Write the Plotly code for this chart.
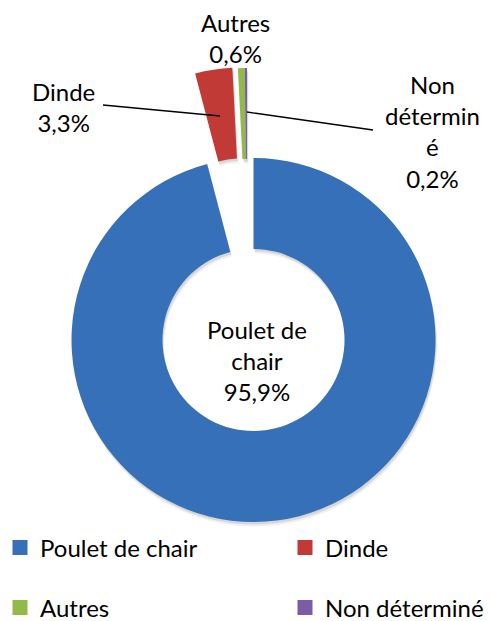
import plotly.graph_objects as go

# ---- data ----
labels = ["Poulet de chair", "Dinde", "Autres", "Non déterminé"]
values = [95.9, 3.3, 0.6, 0.2]
colors = ["#3670B8", "#C23A36", "#92BA4A", "#7D5CA6"]
label_text = ["Poulet de<br>chair", "Dinde", "Autres", "Non<br>détermin<br>é"]

# ---- layout constants (pixels) ----
W, H = 491, 621
CX, CY, R = 253.5, 340.0, 182.0
HOLE = 0.5
FONT = "Lato, Carlito, Calibri, sans-serif"
FS = 24
TRANSPARENT = "rgba(0,0,0,0)"

# slice groups: (indices shown, shift dx, dy) -> exploded slices are shifted
groups = [([0], 0, 0), ([1], -12, -90.5), ([2, 3], -6.5, -90)]


def px_x(p):
    return p / W


def px_y(p):
    return 1 - p / H


def pie(show, dx, dy, shade=None):
    cx, cy = CX + dx, CY + dy
    cols = [(shade if shade else colors[i]) if i in show else TRANSPARENT
            for i in range(len(labels))]
    return go.Pie(
        labels=labels, values=values, sort=False, direction="clockwise",
        rotation=0, hole=HOLE, textinfo="none", showlegend=False,
        marker=dict(colors=cols, line=dict(width=0)),
        domain=dict(x=[px_x(cx - R), px_x(cx + R)],
                    y=[px_y(cy + R), px_y(cy - R)]),
        hoverinfo="label+percent" if shade is None else "skip",
    )


fig = go.Figure()
# soft shadows
for show, dx, dy in groups:
    fig.add_trace(pie(show, dx + 1.5, dy + 4.5, "rgba(0,0,0,0.06)"))
    fig.add_trace(pie(show, dx + 1, dy + 2.5, "rgba(0,0,0,0.10)"))
for show, dx, dy in groups:
    fig.add_trace(pie(show, dx, dy))

# legend entries: one legend per entry, 2 x 2 grid
legend_ids = ["legend", "legend2", "legend3", "legend4"]
legend_pos = [(-6, 548), (285, 548), (-6, 608), (285, 608)]
for lab, col, lid in zip(labels, colors, legend_ids):
    fig.add_trace(go.Scatter(
        x=[None], y=[None], mode="markers", name=lab,
        marker=dict(symbol="square", size=15, color=col),
        legend=lid,
    ))

# data labels
label_pos = [(257, 360), (63, 107), (235, 38), (432, 131)]
annotations = []
for txt, v, (x, y) in zip(label_text, values, label_pos):
    pct = f"{v:.1f}".replace(".", ",") + "%"
    annotations.append(dict(
        x=px_x(x), y=px_y(y), xref="paper", yref="paper",
        text=f"{txt}<br>{pct}", showarrow=False,
        xanchor="center", yanchor="middle", align="center",
        font=dict(family=FONT, size=FS, color="black"),
    ))

# leader lines
leaders = [((103, 105), (220, 116)), ((247, 112), (373, 130))]
shapes = []
for (x0, y0), (x1, y1) in leaders:
    shapes.append(dict(type="line", xref="paper", yref="paper",
                       x0=px_x(x0), y0=px_y(y0), x1=px_x(x1), y1=px_y(y1),
                       line=dict(color="black", width=1.3)))

legends = {}
for lid, (lx, ly) in zip(legend_ids, legend_pos):
    legends[lid] = dict(
        orientation="h", xref="container", yref="container",
        x=px_x(lx), y=px_y(ly), xanchor="left", yanchor="middle",
        itemwidth=30, font=dict(family=FONT, size=FS, color="black"),
        bgcolor="rgba(0,0,0,0)", itemclick=False, itemdoubleclick=False)

fig.update_layout(
    width=W, height=H, margin=dict(l=0, r=0, t=0, b=0, autoexpand=False),
    paper_bgcolor="white", plot_bgcolor="white",
    xaxis=dict(visible=False), yaxis=dict(visible=False),
    annotations=annotations, shapes=shapes,
    **legends,
)

fig.write_html(
    "out.html",
    config={"displayModeBar": False},
    post_script="document.body.style.margin='0';"
                "document.body.style.overflow='hidden';",
)
